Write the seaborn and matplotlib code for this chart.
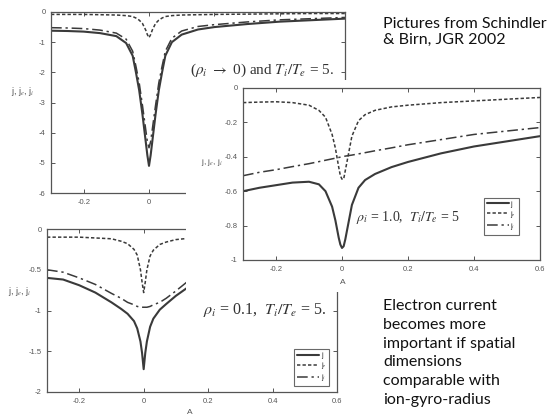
import numpy as np
import matplotlib
matplotlib.use('Agg')
import matplotlib.pyplot as plt
from matplotlib.patches import Rectangle
import seaborn as sns

# current profiles (Schindler & Birn 2002)
A1 = [-0.3, -0.25, -0.2, -0.15, -0.1, -0.07, -0.05, -0.04, -0.03, -0.02, -0.01, -0.005, 0,
      0.005, 0.01, 0.02, 0.03, 0.04, 0.05, 0.07, 0.1, 0.15, 0.2, 0.3, 0.4, 0.5, 0.6]
j1 = [-0.62, -0.63, -0.65, -0.7, -0.8, -1.03, -1.45, -2.0, -2.6, -3.4, -4.3, -4.75, -5.1,
      -4.75, -4.3, -3.4, -2.6, -2.0, -1.45, -1.0, -0.75, -0.58, -0.5, -0.4, -0.32, -0.27, -0.22]
ji1 = [-0.52, -0.53, -0.55, -0.6, -0.7, -0.9, -1.3, -1.8, -2.35, -3.1, -3.9, -4.3, -4.5,
       -4.3, -3.9, -3.1, -2.35, -1.8, -1.3, -0.87, -0.63, -0.48, -0.42, -0.33, -0.26, -0.22, -0.18]
je1 = [-0.08, -0.08, -0.08, -0.09, -0.1, -0.12, -0.15, -0.2, -0.27, -0.38, -0.6, -0.75, -0.85,
       -0.75, -0.6, -0.38, -0.27, -0.2, -0.15, -0.12, -0.1, -0.09, -0.08, -0.07, -0.06, -0.05, -0.05]

A2 = [-0.3, -0.25, -0.2, -0.15, -0.1, -0.07, -0.05, -0.03, -0.02, -0.01, -0.005, 0,
      0.005, 0.01, 0.02, 0.03, 0.05, 0.07, 0.1, 0.15, 0.2, 0.3, 0.4, 0.5, 0.6]
j2 = [-0.6, -0.58, -0.565, -0.55, -0.545, -0.56, -0.6, -0.69, -0.77, -0.87, -0.91, -0.93,
      -0.92, -0.88, -0.78, -0.68, -0.58, -0.535, -0.5, -0.46, -0.43, -0.38, -0.34, -0.31, -0.28]
je2 = [-0.085, -0.082, -0.08, -0.085, -0.1, -0.13, -0.17, -0.27, -0.35, -0.46, -0.51, -0.53,
       -0.53, -0.48, -0.38, -0.28, -0.19, -0.155, -0.13, -0.11, -0.1, -0.085, -0.075, -0.065, -0.055]
ji2 = [-0.51, -0.49, -0.475, -0.457, -0.44, -0.428, -0.42, -0.412, -0.408, -0.404, -0.402, -0.4,
       -0.398, -0.396, -0.393, -0.39, -0.383, -0.376, -0.365, -0.348, -0.33, -0.3, -0.27, -0.25, -0.23]

A3 = A2
j3 = [-0.6, -0.62, -0.69, -0.78, -0.9, -0.98, -1.04, -1.13, -1.22, -1.38, -1.52, -1.72,
      -1.52, -1.38, -1.2, -1.1, -0.99, -0.92, -0.82, -0.68, -0.58, -0.45, -0.36, -0.3, -0.26]
ji3 = [-0.5, -0.53, -0.6, -0.68, -0.79, -0.85, -0.9, -0.93, -0.95, -0.96, -0.96, -0.96,
       -0.96, -0.96, -0.95, -0.93, -0.9, -0.85, -0.76, -0.6, -0.5, -0.38, -0.3, -0.25, -0.21]
je3 = [-0.1, -0.1, -0.1, -0.11, -0.12, -0.15, -0.18, -0.25, -0.32, -0.5, -0.65, -0.78,
       -0.65, -0.5, -0.33, -0.26, -0.19, -0.16, -0.13, -0.11, -0.1, -0.09, -0.08, -0.07, -0.06]

xticks = [-0.2, 0, 0.2, 0.4, 0.6]
xticklabels = ['-0.2', '0', '0.2', '0.4', '0.6']

W, H = 558, 417
sns.set_theme(style='ticks')
plt.rcParams['font.family'] = ['Liberation Sans', 'DejaVu Sans']
plt.rcParams['mathtext.fontset'] = 'stix'
plt.rcParams['axes.unicode_minus'] = False

fig = plt.figure(figsize=(W / 100, H / 100), dpi=100)


def rect(x0, y0, x1, y1):
    # pixel box -> figure fraction
    return [x0 / W, 1 - y1 / H, (x1 - x0) / W, (y1 - y0) / H]


def white_box(x0, y0, x1, y1, z):
    fig.add_artist(Rectangle((x0 / W, 1 - y1 / H), (x1 - x0) / W, (y1 - y0) / H,
                             transform=fig.transFigure, facecolor='white',
                             edgecolor='none', zorder=z))


ink = '#3a3a3a'
grey = '#555555'
dot = (0, (2.2, 1.4))
dashdot = (0, (7, 2.5, 1.5, 2.5))


def panel(ax, A, j, je, ji, ylim, yticks, yticklabels, legend=None):
    sns.lineplot(x=A, y=j, ax=ax, color=ink, linewidth=1.5, label='j')
    sns.lineplot(x=A, y=je, ax=ax, color=ink, linewidth=1.1, linestyle=dot, label='j$_e$')
    sns.lineplot(x=A, y=ji, ax=ax, color=ink, linewidth=1.1, linestyle=dashdot, label='j$_i$')
    ax.set_xlim(-0.3, 0.6)
    ax.set_ylim(*ylim)
    ax.set_xticks(xticks)
    ax.set_xticklabels(xticklabels)
    ax.set_yticks(yticks)
    ax.set_yticklabels(yticklabels)
    ax.tick_params(direction='in', top=True, right=True, length=3, width=0.7,
                   labelsize=5.5, labelcolor=grey, color=grey, pad=4)
    for s in ax.spines.values():
        s.set_color(grey)
        s.set_linewidth(0.9)
    ax.set_xlabel('')
    ax.set_ylabel('')
    if legend is None:
        ax.get_legend().remove()
    else:
        leg = ax.legend(loc='lower right', bbox_to_anchor=legend, fontsize=5, frameon=True,
                        fancybox=False, edgecolor='#444444', handlelength=3.2,
                        handletextpad=0.2, borderpad=0.4, labelspacing=0.15)
        leg.get_frame().set_linewidth(0.8)


serif = ['Liberation Serif', 'DejaVu Serif']
ylab = 'j, j$_e$, j$_i$'

# panel 1: rho_i -> 0
ax1 = fig.add_axes(rect(51, 12, 345, 193), zorder=1)
panel(ax1, A1, j1, je1, ji1, (-6, 0), [0, -1, -2, -3, -4, -5, -6],
      ['0', '-1', '-2', '-3', '-4', '-5', '-6'])
ax1.text(0.565, -1.95, r'($\rho_i$ $\rightarrow$ 0) and $T_i/T_e$ = 5.', ha='right', va='center',
         fontsize=11, color='#333333', family=serif)
fig.text(11 / W, 1 - 91 / H, ylab, fontsize=6.5, color=grey, va='center')

# panel 3: rho_i = 0.1
white_box(0, 212, 346, 417, 2)
ax3 = fig.add_axes(rect(47, 229, 337, 392), zorder=3)
panel(ax3, A3, j3, je3, ji3, (-2, 0), [0, -0.5, -1, -1.5, -2],
      ['0', '-0.5', '-1', '-1.5', '-2'], legend=(0.986, 0.015))
ax3.text(0.183, -0.99, r'$\rho_i$ = 0.1,  $T_i/T_e$ = 5.', ha='left', va='center',
         fontsize=11.5, color='#333333', family=serif)
fig.text(8 / W, 1 - 292 / H, ylab, fontsize=6.5, color=grey, va='center', zorder=3)
fig.text(190 / W, 1 - 413 / H, 'A', fontsize=6, color=grey, ha='center', va='center', zorder=3)

# panel 2: rho_i = 1.0
white_box(186, 80, 558, 292, 4)
ax2 = fig.add_axes(rect(243, 88, 540, 260), zorder=5)
panel(ax2, A2, j2, je2, ji2, (-1, 0), [0, -0.2, -0.4, -0.6, -0.8, -1],
      ['0', '-0.2', '-0.4', '-0.6', '-0.8', '-1'], legend=(0.94, 0.128))
ax2.text(0.043, -0.75, r'$\rho_i$ = 1.0,  $T_i/T_e$ = 5', ha='left', va='center',
         fontsize=10, color='#333333', family=serif)
fig.text(201 / W, 1 - 163 / H, ylab, fontsize=6, color=grey, va='center', zorder=6)
fig.text(343 / W, 1 - 283 / H, 'A', fontsize=6, color=grey, ha='center', va='center', zorder=6)

# slide captions
note = ['Lato', 'DejaVu Sans']
fig.text(383 / W, 1 - 32 / H, 'Pictures from Schindler\n& Birn, JGR 2002', fontsize=11.5,
         family=note, color='#111111', va='center', linespacing=1.25, zorder=7)
fig.text(383 / W, 1 - 353 / H,
         'Electron current\nbecomes more\nimportant if spatial\ndimensions\ncomparable with\nion-gyro-radius',
         fontsize=11.5, family=note, color='#111111', va='center', linespacing=1.42, zorder=7)

fig.savefig('out.png', dpi=100)
